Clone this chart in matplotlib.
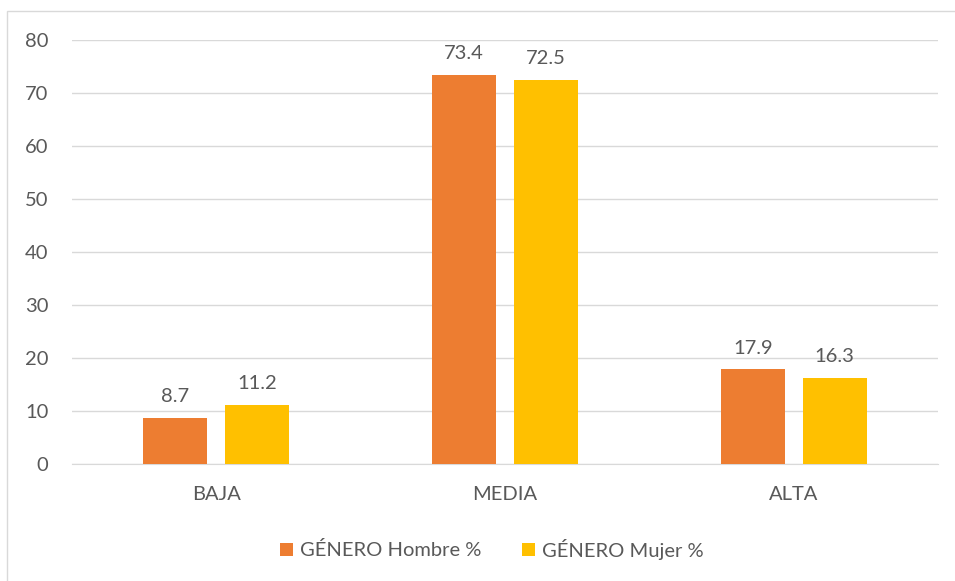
import matplotlib
matplotlib.use("Agg")
import matplotlib.pyplot as plt
import numpy as np

# ── data ─────────────────────────────────────────────────────────────────────
categories = ["BAJA", "MEDIA", "ALTA"]
hombre = [8.7, 73.4, 17.9]
mujer = [11.2, 72.5, 16.3]
series_names = ["GÉNERO Hombre %", "GÉNERO Mujer %"]

C_ORANGE = "#ED7D31"
C_YELLOW = "#FFC000"
C_TEXT = "#595959"
C_GRID = "#D9D9D9"
FS = 14.5

plt.rcParams["font.family"] = ["Lato", "DejaVu Sans"]

fig = plt.figure(figsize=(9.55, 5.81), dpi=100)
fig.patch.set_facecolor("white")
ax = fig.add_axes([72/955, 1 - 464/581, (938 - 72)/955, (464 - 40)/581])

# outer chart border (only left/top visible in the crop)
fig.add_artist(plt.Rectangle((7/955, -0.05), 1.2, 1.05 - 11/581,
                             transform=fig.transFigure, fill=False,
                             edgecolor=C_GRID, lw=1.0))

x = np.arange(len(categories))
w = 0.221
off = 0.142
b1 = ax.bar(x - off, hombre, w, color=C_ORANGE, label=series_names[0], zorder=3)
b2 = ax.bar(x + off, mujer, w, color=C_YELLOW, label=series_names[1], zorder=3)

for bars, vals in ((b1, hombre), (b2, mujer)):
    for r, v in zip(bars, vals):
        ax.annotate(f"{v}", (r.get_x() + r.get_width()/2, v),
                    xytext=(0, 9), textcoords="offset points",
                    ha="center", va="bottom", fontsize=FS, color=C_TEXT)

ax.set_xlim(-0.5, 2.5)
ax.set_ylim(0, 80)
ax.set_yticks(range(0, 81, 10))
ax.set_xticks(x)
ax.set_xticklabels(categories)
ax.yaxis.grid(True, color=C_GRID, lw=1.0, zorder=0)
ax.set_axisbelow(True)
for s in ["top", "right", "left"]:
    ax.spines[s].set_visible(False)
ax.spines["bottom"].set_color(C_GRID)
ax.tick_params(axis="both", length=0, labelsize=FS, labelcolor=C_TEXT)
ax.tick_params(axis="y", pad=17)
ax.tick_params(axis="x", pad=16)

fig.legend(handles=[b1, b2], labels=series_names, loc="center",
           bbox_to_anchor=(492/955, 1 - 549/581), ncol=2, frameon=False,
           fontsize=FS, labelcolor=C_TEXT, handlelength=0.65, handleheight=0.65,
           handletextpad=0.35, columnspacing=2.0)

fig.savefig("out.png", dpi=100, facecolor="white")
